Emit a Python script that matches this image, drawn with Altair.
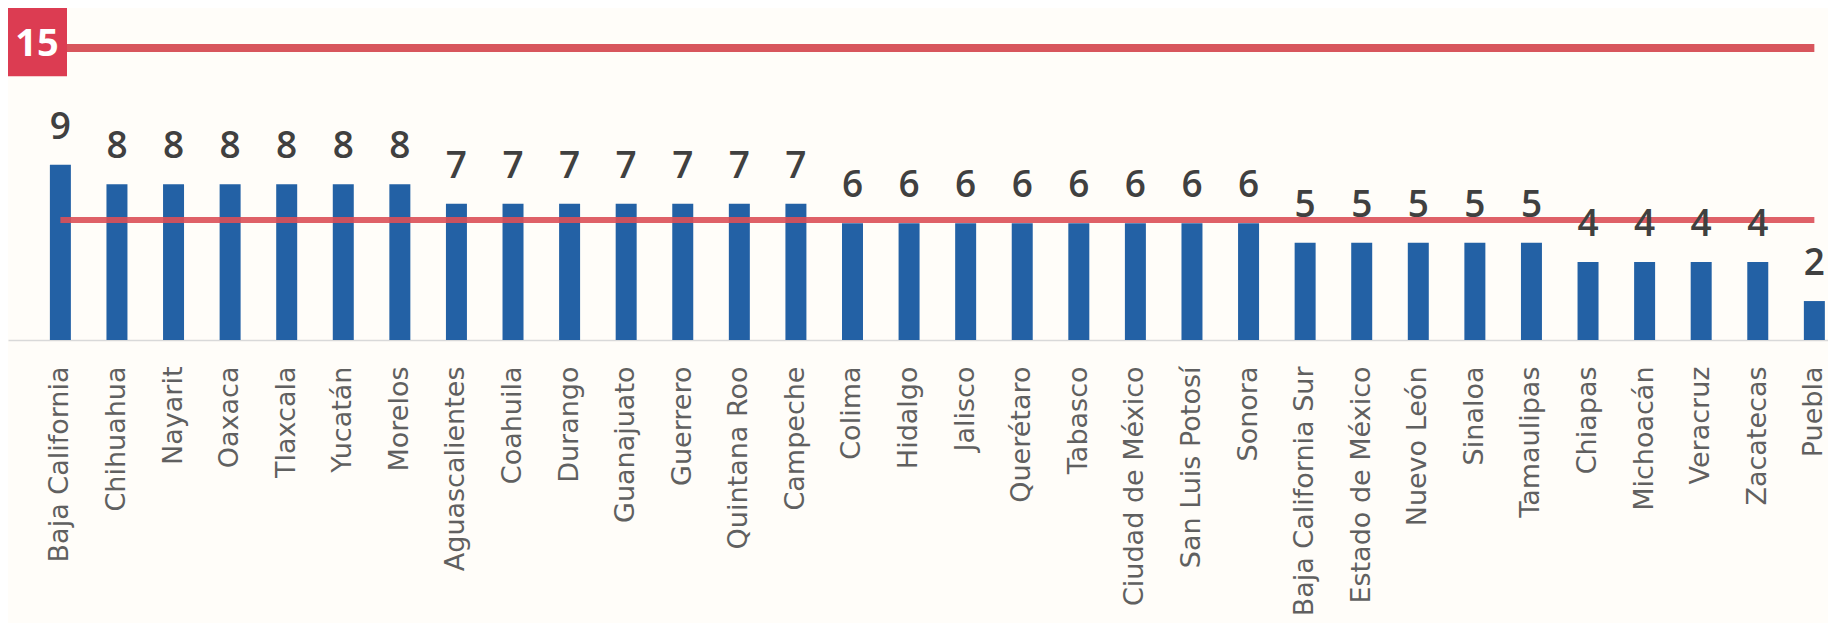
import altair as alt
import pandas as pd

estados = ["Baja California", "Chihuahua", "Nayarit", "Oaxaca", "Tlaxcala", "Yucatán",
           "Morelos", "Aguascalientes", "Coahuila", "Durango", "Guanajuato", "Guerrero",
           "Quintana Roo", "Campeche", "Colima", "Hidalgo", "Jalisco", "Querétaro",
           "Tabasco", "Ciudad de México", "San Luis Potosí", "Sonora", "Baja California Sur",
           "Estado de México", "Nuevo León", "Sinaloa", "Tamaulipas", "Chiapas",
           "Michoacán", "Veracruz", "Zacatecas", "Puebla"]
valores = [9, 8, 8, 8, 8, 8, 8, 7, 7, 7, 7, 7, 7, 7, 6, 6, 6, 6, 6, 6, 6, 6,
           5, 5, 5, 5, 5, 4, 4, 4, 4, 2]
promedio = 6.16
meta = 15
meta_label = "15"

df = pd.DataFrame({"estado": estados, "valor": valores})
df["promedio"] = promedio
df["meta"] = meta

xscale = alt.Scale(domain=estados, paddingInner=0.629, paddingOuter=0.398, align=0.93)
yscale = alt.Scale(domain=[0, 17.05], nice=False, zero=True)

x_enc = alt.X("estado:N", scale=xscale, sort=None, title=None,
              axis=alt.Axis(labelAngle=-90, labelFontSize=27, labelFont="DejaVu Sans",
                            labelColor="#606060", labelPadding=26, ticks=False,
                            domainColor="#d9d9d9", domainWidth=1.5, labelLimit=400))
y_enc = alt.Y("valor:Q", scale=yscale, axis=None)

base = alt.Chart(df)

bars = base.mark_bar(color="#2361a5").encode(x=x_enc, y=y_enc)

avg_line = base.mark_line(color="#dc5058", strokeWidth=6, opacity=0.9).encode(
    x=x_enc, y=alt.Y("promedio:Q", scale=yscale, axis=None))

labels = base.mark_text(font="Open Sans", fontSize=37, fontWeight=600,
                        color="#404040", baseline="alphabetic", dy=-26).encode(
    x=x_enc, y=y_enc, text="valor:Q")

meta_line = base.mark_line(color="#d8565d", strokeWidth=8).encode(
    x=x_enc, y=alt.Y("meta:Q", scale=yscale, axis=None))

meta_df = pd.DataFrame({"y": [meta], "y1": [13.55], "y2": [17.05], "t": [meta_label]})
meta_box = alt.Chart(meta_df).mark_rect(color="#dc3c52").encode(
    x=alt.value(0), x2=alt.value(59),
    y=alt.Y("y1:Q", scale=yscale, axis=None), y2="y2:Q",
)
meta_text = alt.Chart(meta_df).mark_text(font="Open Sans", fontSize=38, fontWeight="bold",
                                         color="white", baseline="middle", dy=-3).encode(
    x=alt.value(29), y=alt.Y("y:Q", scale=yscale, axis=None), text="t:N")

chart = alt.layer(bars, avg_line, labels, meta_line, meta_box, meta_text).properties(
    width=1820, height=332,
    autosize=alt.AutoSizeParams(type="none"),
    padding={"left": 0, "top": 0, "right": 0, "bottom": 283},
    background="#fffdf9",
).configure_view(stroke=None)

chart.save("out.html", embed_options={"renderer": "svg", "actions": False})
